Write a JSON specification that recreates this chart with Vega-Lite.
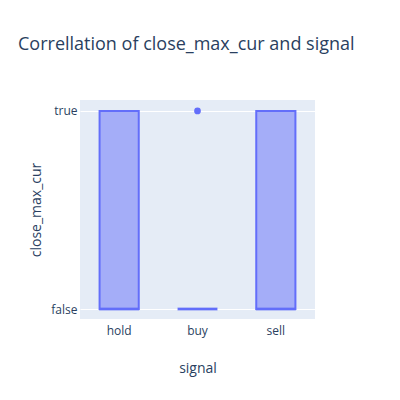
{
  "$schema": "https://vega.github.io/schema/vega-lite/v6.json",
  "width": 235,
  "height": 219,
  "autosize": "none",
  "padding": {"left": 80, "top": 100, "right": 85, "bottom": 81},
  "background": "white",
  "title": {
    "text": "Correllation of close_max_cur and signal",
    "anchor": "start",
    "frame": "group",
    "dx": -62,
    "offset": 46,
    "font": "Open Sans",
    "fontSize": 18,
    "fontWeight": "normal",
    "color": "#2a3f5f"
  },
  "config": {
    "view": {"fill": "#E5ECF6", "stroke": null},
    "axis": {
      "labelFont": "Open Sans",
      "labelFontSize": 12,
      "labelColor": "#2a3f5f",
      "titleFont": "Open Sans",
      "titleFontSize": 14,
      "titleFontWeight": "normal",
      "titleColor": "#2a3f5f",
      "domain": false,
      "ticks": false
    }
  },
  "datasets": {
    "boxes": [
      {"signal": "hold", "q1": 0, "median": 0, "q3": 1},
      {"signal": "buy", "q1": 0, "median": 0, "q3": 0},
      {"signal": "sell", "q1": 0, "median": 0, "q3": 1}
    ],
    "outliers": [
      {"signal": "buy", "close_max_cur": 1}
    ]
  },
  "encoding": {
    "x": {
      "field": "signal",
      "type": "nominal",
      "sort": ["hold", "buy", "sell"],
      "scale": {"domain": ["hold", "buy", "sell"], "paddingInner": 0, "paddingOuter": 0},
      "axis": {"labelAngle": 0, "labelPadding": 6, "grid": false, "title": "signal", "titlePadding": 25}
    }
  },
  "layer": [
    {
      "data": {"name": "boxes"},
      "mark": {"type": "bar", "width": {"band": 0.5}, "fill": "#636efa", "fillOpacity": 0.5, "stroke": "#636efa", "strokeWidth": 2},
      "encoding": {
        "y": {
          "field": "q1",
          "type": "quantitative",
          "scale": {"domain": [-0.05, 1.055], "nice": false, "zero": false},
          "axis": {
            "values": [0, 1],
            "labelExpr": "datum.value == 1 ? 'true' : 'false'",
            "gridColor": "white",
            "gridWidth": 1,
            "labelPadding": 3,
            "title": "close_max_cur",
            "titlePadding": 7
          }
        },
        "y2": {"field": "q3"}
      }
    },
    {
      "data": {"name": "boxes"},
      "mark": {"type": "tick", "color": "#636efa", "thickness": 3, "size": 40},
      "encoding": {
        "y": {"field": "median", "type": "quantitative"}
      }
    },
    {
      "data": {"name": "outliers"},
      "mark": {"type": "point", "filled": true, "color": "#636efa", "opacity": 1, "size": 45},
      "encoding": {
        "y": {"field": "close_max_cur", "type": "quantitative"}
      }
    }
  ]
}
